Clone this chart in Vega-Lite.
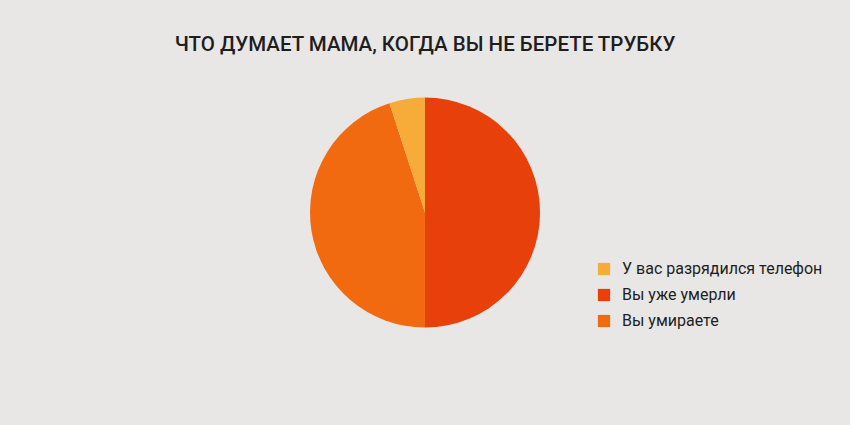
{
  "$schema": "https://vega.github.io/schema/vega-lite/v6.json",
  "width": 850,
  "height": 425,
  "autosize": {"type": "none"},
  "padding": 0,
  "background": "#E8E7E5",
  "config": {"view": {"stroke": null}},
  "title": {
    "text": "ЧТО ДУМАЕТ МАМА, КОГДА ВЫ НЕ БЕРЕТЕ ТРУБКУ",
    "frame": "group",
    "anchor": "middle",
    "offset": 0,
    "dy": 71,
    "baseline": "alphabetic",
    "font": "Roboto",
    "fontSize": 20.5,
    "fontWeight": 500,
    "color": "#1E1E1E"
  },
  "data": {
    "values": [
      {"category": "Вы уже умерли", "value": 50, "k": 1},
      {"category": "Вы умираете", "value": 45, "k": 2},
      {"category": "У вас разрядился телефон", "value": 5, "k": 3}
    ]
  },
  "mark": {"type": "arc", "outerRadius": 115, "stroke": null},
  "encoding": {
    "theta": {"field": "value", "type": "quantitative", "stack": true},
    "order": {"field": "k", "type": "quantitative"},
    "color": {
      "field": "category",
      "type": "nominal",
      "scale": {
        "domain": ["У вас разрядился телефон", "Вы уже умерли", "Вы умираете"],
        "range": ["#F7AC3A", "#E8400A", "#F26A10"]
      },
      "legend": {
        "title": null,
        "orient": "none",
        "legendX": 596,
        "legendY": 261,
        "symbolType": "square",
        "symbolSize": 150,
        "symbolStrokeWidth": 0,
        "symbolOpacity": 1,
        "labelFont": "Roboto",
        "labelFontSize": 16,
        "labelColor": "#1E1E1E",
        "labelOffset": 10,
        "labelLimit": 0,
        "rowPadding": 10
      }
    }
  }
}
